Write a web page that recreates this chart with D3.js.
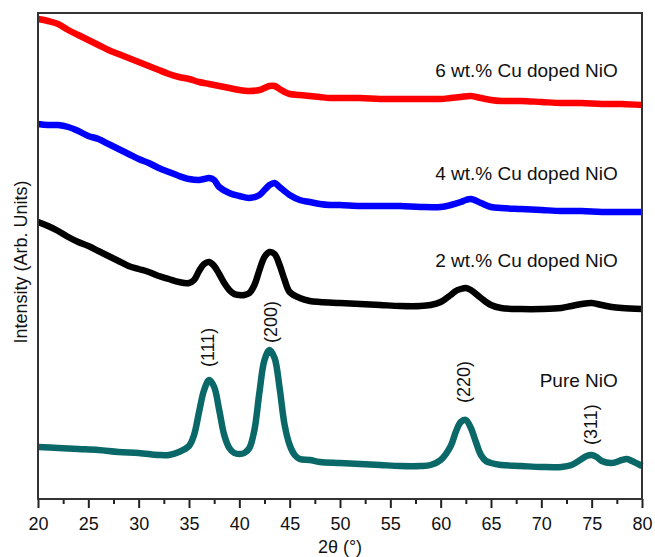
<!DOCTYPE html>
<html>
<head>
<meta charset="utf-8">
<script src="https://cdn.jsdelivr.net/npm/d3@7"></script>
<style>
  body { margin: 0; background: #fff; }
  text { font-family: "Liberation Sans", Arial, Helvetica, sans-serif; }
</style>
</head>
<body>
<div id="chart"></div>
<script>
// XRD patterns, intensity in arbitrary units (stacked offsets as in the figure)
const cu6 = [[20,480],[21,478],[22,475],[23,469],[24,464],[25,459],[26,454],[27,449],[28,445],[29,441],
  [30,437],[31,433],[32,429],[33,425],[34,422],[35,420],[36,417],[37,415],[38,413],[39,411],[40,409],
  [41,408],[42,409],[42.5,411],[43,413],[43.5,413],[44,410],[44.5,407],[45,405],[46,404],[47,403],
  [48,402],[49,401],[50,401],[52,401],[54,400],[56,400],[58,400],[60,400],[61,401],[62,402],[63,403],
  [64,401],[65,399],[66,398],[68,398],[70,397],[72,396],[74,396],[76,395],[78,395],[80,394]];

const cu4 = [[20,375],[21,374],[22,374],[23,372],[24,368],[25,363],[26,360],[27,355],[28,350],[29,345],
  [30,340],[31,336],[32,331],[33,327],[34,323],[35,320],[36,319],[36.5,320],[37,321],[37.5,319],[38,312],
  [39,306],[40,303],[41,301],[42,304],[42.5,309],[43,314],[43.5,316],[44,312],[45,304],[46,299],[47,297],
  [48,295],[49,294],[50,294],[52,293],[54,293],[56,293],[58,292],[60,292],[61,294],[62,297],[62.5,299],
  [63,300],[64,296],[65,292],[66,291],[68,290],[70,289],[72,288],[74,288],[76,287],[78,287],[80,287]];

const cu2 = [[20,277],[21,273],[22,268],[23,262],[24,257],[25,253],[26,248],[27,243],[28,238],[29,233],
  [30,230],[31,227],[32,223],[33,220],[34,217],[35,216],[35.5,219],[36,228],[36.5,235],[37,237],[37.5,233],
  [38,225],[38.5,216],[39,209],[39.5,205],[40,204],[40.5,204],[41,206],[41.5,214],[42,229],[42.5,242],
  [43,247],[43.5,245],[44,234],[44.5,219],[45,207],[46,201],[47,198],[48,197],[50,196],[52,195],[54,194],
  [56,193],[58,193],[59,194],[60,197],[61,204],[61.5,208],[62,210],[62.5,211],[63,209],[64,201],[65,194],
  [66,191],[68,190],[70,190],[72,191],[73,193],[74,195],[75,196],[76,194],[77,192],[78,191],[80,190]];

const pure = [[20,52],[22,51],[24,50],[26,49],[28,47],[30,46],[32,44],[33,44],[34,47],[35,53],[35.5,64],
  [36,87],[36.5,109],[37,119],[37.5,112],[38,89],[38.5,64],[39,51],[39.5,46],[40,45],[40.5,46],[41,51],
  [41.5,69],[42,107],[42.5,139],[43,149],[43.5,141],[44,111],[44.5,74],[45,54],[45.5,44],[46,40],[47,39],
  [48,37],[50,36],[52,35],[54,34],[56,33],[58,33],[59,34],[60,39],[61,53],[61.5,67],[62,77],[62.5,79],
  [63,71],[63.5,57],[64,44],[64.5,38],[65,36],[66,34],[68,33],[70,32],[72,32],[73,34],[74,40],[74.5,43],
  [75,44],[75.5,42],[76,38],[77,36],[78,39],[78.5,40],[79,38],[80,33]];

const seriesNames = ["6 wt.% Cu doped NiO", "4 wt.% Cu doped NiO", "2 wt.% Cu doped NiO", "Pure NiO"];
const seriesColors = ["#ff0000", "#0000ff", "#000000", "#0a6868"];
const seriesData = [cu6, cu4, cu2, pure];
const seriesLabelAt = [[77.6, 422], [77.6, 319], [77.6, 232], [77.6, 112]];

const peakLabels = ["(111)", "(200)", "(220)", "(311)"];
const peakLabelAt = [[36.9, 132], [43.1, 156], [62.3, 96], [74.9, 54]];

const xTicks = [20, 25, 30, 35, 40, 45, 50, 55, 60, 65, 70, 75, 80];
const xMinor = [22.5, 27.5, 32.5, 37.5, 42.5, 47.5, 52.5, 57.5, 62.5, 67.5, 72.5, 77.5];

const width = 655;
const height = 557;
const marginTop = 13;
const marginRight = 13;
const marginBottom = 58;
const marginLeft = 38;

const x = d3.scaleLinear().domain([20, 80]).range([marginLeft, width - marginRight]);
const y = d3.scaleLinear().domain([0, 486]).range([height - marginBottom, marginTop]);

const svg = d3.select("#chart").append("svg")
  .attr("width", width)
  .attr("height", height);

// minor ticks
svg.append("g")
  .attr("transform", `translate(0,${height - marginBottom})`)
  .call(d3.axisBottom(x).tickValues(xMinor).tickSize(5).tickFormat(""))
  .call(g => g.select(".domain").remove())
  .call(g => g.selectAll("line").attr("stroke", "#222").attr("stroke-width", 2));

// major ticks
svg.append("g")
  .attr("transform", `translate(0,${height - marginBottom})`)
  .call(d3.axisBottom(x).tickValues(xTicks).tickSize(9).tickPadding(9).tickFormat(d3.format("d")))
  .call(g => g.select(".domain").remove())
  .call(g => g.selectAll("line").attr("stroke", "#222").attr("stroke-width", 2))
  .call(g => g.selectAll("text").attr("font-size", 18).attr("fill", "#111")
    .attr("font-family", "'Liberation Sans', Arial, sans-serif"));

// curves
const line = d3.line()
  .x(d => x(d[0]))
  .y(d => y(d[1]))
  .curve(d3.curveCatmullRom.alpha(0.5));

seriesData.forEach((data, i) => {
  svg.append("path")
    .datum(data)
    .attr("fill", "none")
    .attr("stroke", seriesColors[i])
    .attr("stroke-width", 6.5)
    .attr("stroke-linejoin", "round")
    .attr("d", line);
});

// frame
svg.append("rect")
  .attr("x", marginLeft)
  .attr("y", marginTop)
  .attr("width", width - marginLeft - marginRight)
  .attr("height", height - marginTop - marginBottom)
  .attr("fill", "none")
  .attr("stroke", "#333")
  .attr("stroke-width", 2);

// series labels
seriesNames.forEach((name, i) => {
  svg.append("text")
    .attr("x", x(seriesLabelAt[i][0]))
    .attr("y", y(seriesLabelAt[i][1]))
    .attr("text-anchor", "end")
    .attr("font-size", 19)
    .attr("fill", "#111")
    .text(name);
});

// peak labels (rotated)
peakLabels.forEach((lab, i) => {
  svg.append("text")
    .attr("transform", `translate(${x(peakLabelAt[i][0])},${y(peakLabelAt[i][1])}) rotate(-90)`)
    .attr("dy", "0.35em")
    .attr("text-anchor", "start")
    .attr("font-size", 18)
    .attr("fill", "#111")
    .text(lab);
});

// axis titles
svg.append("text")
  .attr("x", 340)
  .attr("y", 553)
  .attr("text-anchor", "middle")
  .attr("font-size", 18)
  .attr("fill", "#111")
  .text("2θ (°)");

svg.append("text")
  .attr("transform", `translate(27,${(marginTop + height - marginBottom) / 2 + 6}) rotate(-90)`)
  .attr("text-anchor", "middle")
  .attr("font-size", 18)
  .attr("fill", "#111")
  .text("Intensity (Arb. Units)");
</script>
</body>
</html>
